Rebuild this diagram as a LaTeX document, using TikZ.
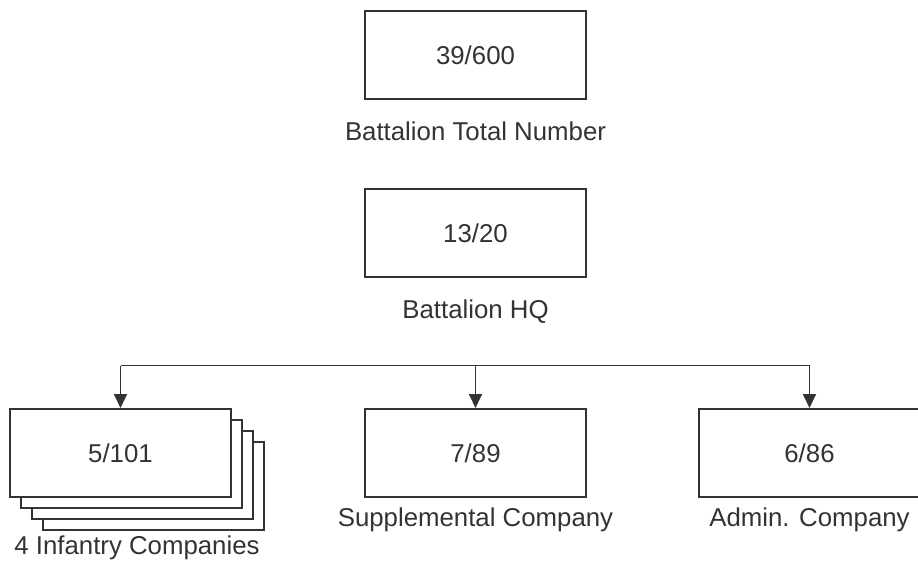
\documentclass[tikz,border=0pt]{standalone}
\usepackage{fontspec}
\setmainfont{Liberation Sans}
\usepackage{xcolor}
\usetikzlibrary{positioning,arrows.meta,calc,backgrounds}
\definecolor{orgline}{rgb}{0.2,0.2,0.2}
\definecolor{orgtext}{rgb}{0.20,0.20,0.20}

\begin{document}
\begin{tikzpicture}[
  node distance=44pt,
  unit/.style={draw=orgline, line width=1pt, fill=white, text=orgtext,
    minimum width=110.5pt, minimum height=44pt, inner sep=0pt,
    font=\fontsize{12.9pt}{15pt}\selectfont},
  lbl/.style={text=orgtext, inner sep=0pt, text height=9.3pt, text depth=2.7pt,
    font=\fontsize{12.9pt}{15pt}\selectfont},
  arrow/.style={-{Triangle[length=7pt,width=6.5pt]}, draw=orgline, line width=0.9pt},
  bus/.style={draw=orgline, line width=0.9pt}
]
\useasboundingbox (0,0) rectangle (459pt,-281.5pt);

% battalion level
\node[unit] (total) at (237.75pt,-27.5pt) {39/600};
\node[lbl, anchor=north] (totallbl) at ($(total.south)+(0,-10.5pt)$) {Battalion Total Number};
\node[unit, below=of total] (hq) {13/20};
\node[lbl, anchor=north] (hqlbl) at ($(hq.south)+(0,-10.5pt)$) {Battalion HQ};

% company level
\node[unit, below=65pt of hq] (supp) {7/89};
\node[unit, left=66pt of supp] (inf) {5/101};
\node[unit, right=55.5pt of supp] (adm) {6/86};

% stacked infantry companies behind the front one
\begin{scope}[on background layer]
  \foreach \k/\off in {3/16.5pt, 2/11pt, 1/5.5pt}
    \node[unit] (inf\k) at ($(inf.center)+(\off,-\off)$) {};
\end{scope}

\coordinate (stackmid) at ($(inf.center)!0.5!(inf3.center)$);
\node[lbl, anchor=north] (inflbl) at ($(stackmid |- inf3.south)+(0,-2pt)$) {4 Infantry Companies};
\node[lbl, anchor=north] (supplbl) at ($(supp.south)+(0,-4.5pt)$) {Supplemental Company};
\node[lbl, anchor=north] (admlbl) at ($(adm.south)+(0,-4.5pt)$) {Admin. Company};

% distribution bus down to the companies
\coordinate (bus) at (0,-182.75pt);
\draw[bus] (inf.north |- bus) -- (adm.north |- bus);
\draw[arrow] (inf.north |- bus) -- (inf.north);
\draw[arrow] (supp.north |- bus) -- (supp.north);
\draw[arrow] (adm.north |- bus) -- (adm.north);
\end{tikzpicture}
\end{document}
